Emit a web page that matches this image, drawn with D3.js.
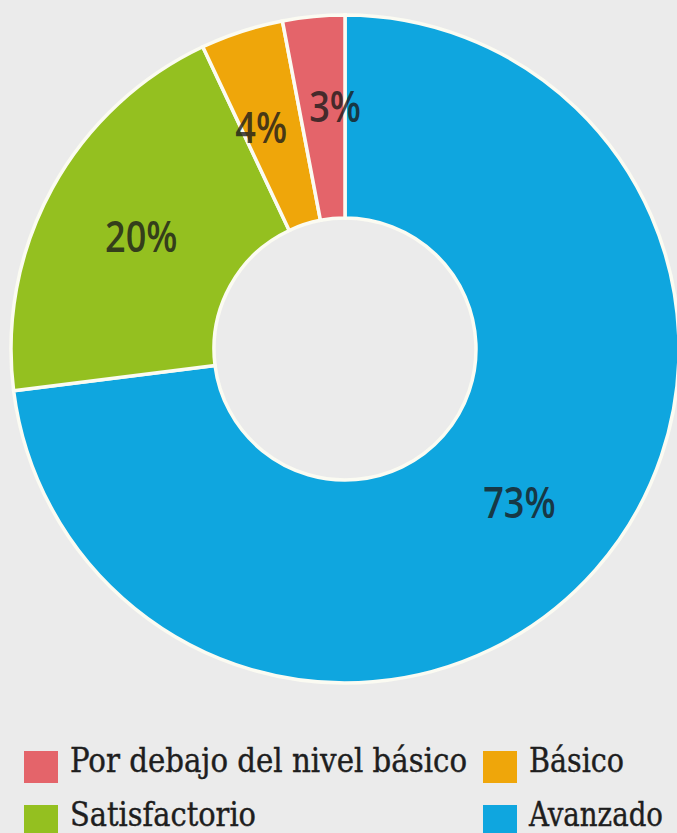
<!DOCTYPE html>
<html>
<head>
<meta charset="utf-8">
<script src="https://cdn.jsdelivr.net/npm/d3@7"></script>
<style>
  html, body { margin: 0; padding: 0; background: #ebebeb; }
  svg { display: block; }
</style>
</head>
<body>
<svg id="chart" width="677" height="833"></svg>
<script>
// Data
const categories = ["Avanzado", "Satisfactorio", "Básico", "Por debajo del nivel básico"];
const values = [73, 20, 4, 3];
const labels = ["73%", "20%", "4%", "3%"];
const colors = ["#0fa6df", "#94c020", "#efa60a", "#e4646a"];
const legendOrder = ["Por debajo del nivel básico", "Básico", "Satisfactorio", "Avanzado"];

const svg = d3.select("#chart");
const cx = 345, cy = 349, R = 334, r = 131;

const pie = d3.pie().sort(null).value(d => d.value);
const arc = d3.arc().innerRadius(r).outerRadius(R);
const data = categories.map((c, i) => ({ cat: c, value: values[i], label: labels[i], color: colors[i] }));
const arcs = pie(data);

const g = svg.append("g").attr("transform", `translate(${cx},${cy})`);
g.selectAll("path").data(arcs).join("path")
  .attr("d", arc)
  .attr("fill", d => d.data.color)
  .attr("stroke", "#fbfbf2")
  .attr("stroke-width", 3.5)
  .attr("stroke-linejoin", "miter");

// small label nudges (style only) so the narrow slices' labels don't collide
const nudge = { "Básico": [-12, 0], "Por debajo del nivel básico": [12, -11] };
g.selectAll("text").data(arcs).join("text")
  .attr("transform", d => {
    const [x, y] = arc.centroid(d);
    const [nx, ny] = nudge[d.data.cat] || [0, 0];
    return `translate(${x + nx},${y + ny}) scale(0.84,1)`;
  })
  .attr("text-anchor", "middle")
  .attr("dy", "0.36em")
  .attr("font-family", "'Open Sans', 'Noto Sans', sans-serif")
  .attr("font-weight", 600)
  .attr("font-size", 43)
  .attr("fill", "#1a1a1a")
  .attr("fill-opacity", 0.8)
  .text(d => d.data.label);

// Legend
const colorOf = d3.scaleOrdinal().domain(categories).range(colors);
const legendPos = [
  { x: 24, y: 751 },
  { x: 483, y: 751 },
  { x: 24, y: 805 },
  { x: 483, y: 805 }
];
const legendWidths = { "Por debajo del nivel básico": 397, "Básico": 95, "Satisfactorio": 186, "Avanzado": 134 };
const lg = svg.append("g");
legendOrder.forEach((name, i) => {
  const p = legendPos[i];
  lg.append("rect").attr("x", p.x).attr("y", p.y).attr("width", 34).attr("height", 32)
    .attr("fill", colorOf(name));
  lg.append("text").attr("x", p.x + 46).attr("y", p.y + 21)
    .attr("font-family", "'DejaVu Serif', serif")
    .attr("font-stretch", "condensed")
    .attr("font-size", 33)
    .attr("fill", "#1e1e1e")
    .attr("stroke", "#1e1e1e")
    .attr("stroke-width", 0.4)
    .attr("textLength", legendWidths[name])
    .attr("lengthAdjust", "spacingAndGlyphs")
    .text(name);
});
</script>
</body>
</html>
